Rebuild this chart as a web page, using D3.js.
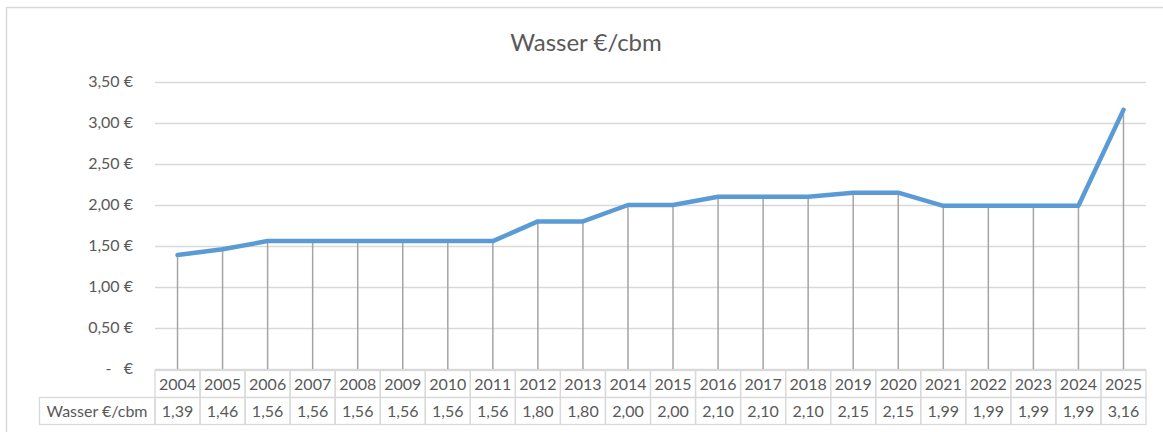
<!DOCTYPE html>
<html>
<head>
<meta charset="utf-8">
<script src="https://cdnjs.cloudflare.com/ajax/libs/d3/7.8.5/d3.min.js"></script>
<style>
  body { margin: 0; background: #fff; }
  text { font-family: Lato, "Open Sans", sans-serif; fill: #595959; }
</style>
</head>
<body>
<script>
// data
const years = ["2004","2005","2006","2007","2008","2009","2010","2011","2012","2013","2014",
               "2015","2016","2017","2018","2019","2020","2021","2022","2023","2024","2025"]
const prices = [1.39,1.46,1.56,1.56,1.56,1.56,1.56,1.56,1.80,1.80,2.00,
                2.00,2.10,2.10,2.10,2.15,2.15,1.99,1.99,1.99,1.99,3.16]
const yTicks = [0, 0.5, 1, 1.5, 2, 2.5, 3, 3.5]
const seriesName = "Wasser €/cbm"

const W = 1163, H = 432
const plot = { left: 155, right: 1146, top: 82, bottom: 369 }
const rowH = 27

const svg = d3.select("body").append("svg")
    .attr("width", W)
    .attr("height", H)

// chart frame
svg.append("rect")
    .attr("x", 6.5).attr("y", 7.5)
    .attr("width", W + 20).attr("height", H + 20)
    .attr("fill", "none")
    .attr("stroke", "#d9d9d9")
    .attr("stroke-width", 1.5)

svg.append("text")
    .attr("x", 586).attr("y", 51)
    .attr("text-anchor", "middle")
    .attr("font-size", 24)
    .text(seriesName)

const x = d3.scaleBand()
    .domain(years)
    .range([plot.left, plot.right])

const y = d3.scaleLinear()
    .domain([0, 3.5])
    .range([plot.bottom, plot.top])

const fmt = v => v === 0 ? "-\u00a0\u00a0\u00a0€" : d3.format(".2f")(v).replace(".", ",") + "\u00a0€"

// grid
svg.append("g")
    .selectAll("line")
    .data(yTicks)
    .enter().append("line")
    .attr("x1", plot.left).attr("x2", plot.right)
    .attr("y1", d => Math.round(y(d)) + 0.5)
    .attr("y2", d => Math.round(y(d)) + 0.5)
    .attr("stroke", "#d9d9d9")
    .attr("stroke-width", 1.3)

// y labels
svg.append("g")
    .selectAll("text")
    .data(yTicks)
    .enter().append("text")
    .attr("x", 133)
    .attr("y", d => y(d) + 5)
    .attr("text-anchor", "end")
    .attr("font-size", 16)
    .text(fmt)

// drop lines
const cx = d => x(d) + x.bandwidth() / 2
svg.append("g")
    .selectAll("line")
    .data(years)
    .enter().append("line")
    .attr("x1", d => cx(d)).attr("x2", d => cx(d))
    .attr("y1", (d, i) => y(prices[i]))
    .attr("y2", plot.bottom)
    .attr("stroke", "#a5a5a5")
    .attr("stroke-width", 1.5)

// series line
const line = d3.line()
    .x((d, i) => cx(years[i]))
    .y(d => y(d))

svg.append("path")
    .datum(prices)
    .attr("d", line)
    .attr("fill", "none")
    .attr("stroke", "#5b9bd5")
    .attr("stroke-width", 4.5)
    .attr("stroke-linejoin", "round")
    .attr("stroke-linecap", "round")

// data table
const tbl = svg.append("g")
const top0 = 370.5
const borderCol = "#d9d9d9"

years.forEach((yr, i) => {
    tbl.append("rect")
        .attr("x", x(yr)).attr("y", top0)
        .attr("width", x.bandwidth()).attr("height", rowH)
        .attr("fill", "none").attr("stroke", borderCol).attr("stroke-width", 1.3)
    tbl.append("rect")
        .attr("x", x(yr)).attr("y", top0 + rowH)
        .attr("width", x.bandwidth()).attr("height", rowH)
        .attr("fill", "none").attr("stroke", borderCol).attr("stroke-width", 1.3)
    tbl.append("text")
        .attr("x", cx(yr)).attr("y", top0 + 19)
        .attr("text-anchor", "middle")
        .attr("font-size", 16)
        .text(yr)
    tbl.append("text")
        .attr("x", cx(yr)).attr("y", top0 + rowH + 19)
        .attr("text-anchor", "middle")
        .attr("font-size", 16)
        .text(d3.format(".2f")(prices[i]).replace(".", ","))
})

// series name cell
tbl.append("rect")
    .attr("x", 39.5).attr("y", top0 + rowH)
    .attr("width", plot.left - 39.5).attr("height", rowH)
    .attr("fill", "none").attr("stroke", borderCol).attr("stroke-width", 1.3)
tbl.append("text")
    .attr("x", 97).attr("y", top0 + rowH + 19)
    .attr("text-anchor", "middle")
    .attr("font-size", 16)
    .text(seriesName)
</script>
</body>
</html>
